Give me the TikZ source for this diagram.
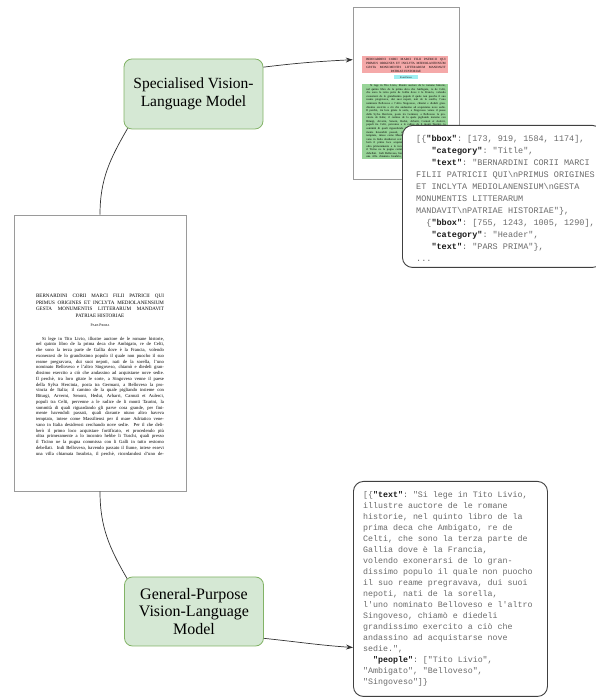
\documentclass[tikz,border=0pt]{standalone}
\usepackage{fontspec}
\setmainfont{Liberation Serif}
\setmonofont{Liberation Mono}
\usetikzlibrary{positioning,calc,arrows.meta}
\definecolor{vlmfill}{HTML}{D5E8D4}
\definecolor{vlmdraw}{HTML}{82B366}
\definecolor{pageline}{HTML}{9A9A9A}
\definecolor{jsonkey}{HTML}{1A1A1A}
\definecolor{jsonval}{HTML}{6B6B6B}
\definecolor{hltitle}{HTML}{F5A9A9}
\definecolor{hlheader}{HTML}{9FEFF2}
\definecolor{hltext}{HTML}{98D498}
\newcommand{\jk}[1]{\textbf{\color{jsonkey}#1}}
\newcommand{\jl}[1]{\makebox[128pt][s]{#1}}
\newsavebox\pagetext
\begin{document}
\sbox\pagetext{\parbox{128pt}{\centering
\fontsize{5.1}{6.6}\selectfont
\jl{BERNARDINI CORII MARCI FILII PATRICII QUI}\\
\jl{PRIMUS ORIGINES ET INCLYTA MEDIOLANENSIUM}\\
\jl{GESTA MONUMENTIS LITTERARUM MANDAVIT}\\
PATRIAE HISTORIAE\par
\vspace{4pt}
{\fontsize{3.8}{5}\selectfont P{\fontsize{3.0}{5}\selectfont ARS} P{\fontsize{3.0}{5}\selectfont RIMA}\par}
\vspace{8pt}
\fontsize{4.65}{5.75}\selectfont
\hspace*{6pt}\makebox[122pt][s]{Si lege in Tito Livio, illustre auctore de le romane historie,}\\
\jl{nel quinto libro de la prima deca che Ambigato, re de Celti,}\\
\jl{che sono la terza parte de Gallia dove è la Francia, volendo}\\
\jl{exonerarsi de lo grandissimo populo il quale non puocho il suo}\\
\jl{reame pregravava, dui suoi nepoti, nati de la sorella, l'uno}\\
\jl{nominato Belloveso e l'altro Singoveso, chiamò e diedeli gran-}\\
\jl{dissimo exercito a ciò che andassino ad acquistarse nove sedie.}\\
\jl{Il perchè, tra loro gitate le sorte, a Singoveso venne il paese}\\
\jl{della Sylva Hercinia, posta tra Germani, a Belloveso la pro-}\\
\jl{vincia de Italia; il camino de la quale pigliando insieme con}\\
\jl{Biturgi, Arverni, Senoni, Hedui, Arbarri, Carnuti et Aulerci,}\\
\jl{populi tra Celti, pervenne a le radice de li monti Taurini, la}\\
\jl{sommità di quali riguardando gli parve cosa grande, per fini-}\\
\jl{mente havendoli passati, quali davante niuno altro haveva}\\
\jl{temptato, intese come Massiliensi per il mare Adriatico vene-}\\
\jl{vano in Italia desiderosi cerchando nove sedie. Per il che deli-}\\
\jl{berò il primo loco acquistare fortificato, et procedendo più}\\
\jl{oltra primeramente a lo incontro hebbe li Tuschi, quali presso}\\
\jl{il Ticino ne la pugna commissa con li Galli in tutto restorno}\\
\jl{debellati. Indi Belloveso, havendo passato il fiume, intese essevi}\\
\jl{una villa chiamata Insubria, il perchè, ricordandosi d'uno de-}\par}}
\begin{tikzpicture}[x=1pt, y=1pt,
  vlm/.style={draw=vlmdraw, fill=vlmfill, line width=0.8pt, rounded corners=8pt, minimum width=139pt, minimum height=70pt, align=center},
  docpage/.style={draw=pageline, line width=0.6pt, fill=white, inner sep=0pt},
  json/.style={draw=black!75, line width=0.9pt, fill=white, rounded corners=10pt},
  jsontext/.style={inner sep=0pt, align=left, text=jsonval},
  link/.style={draw=black!80, line width=0.7pt}]
  \useasboundingbox (0,0) rectangle (595,700);

  % scanned page
  \node[docpage, minimum width=172pt, minimum height=276pt] (srcpage) at (100,347) {};
  \node[inner sep=0pt, anchor=north] (srctext) at (100,406) {\usebox\pagetext};

  % page with layout boxes
  \node[docpage, minimum width=106pt, minimum height=172pt] (annpage) at (406,607) {};
  \fill[hltitle] (362,644) rectangle (448,627);
  \fill[hlheader] (394,625) rectangle (418,621);
  \fill[hltext] (362,616) rectangle (448,541);
  \node[inner sep=0pt, anchor=north] (anntext) at (406,642) {\scalebox{0.62}{\usebox\pagetext}};

  % layout output
  \node[json, minimum width=200pt, minimum height=142pt, anchor=north west] (layoutjson) at (402,575) {};
  \node[jsontext, anchor=north west, font=\ttfamily\fontsize{8.5}{12}\selectfont] (layouttext) at (416,565) {%
[\{\jk{"bbox"}: [173, 919, 1584, 1174],\\
\phantom{000}\jk{"category"}: "Title",\\
\phantom{000}\jk{"text"}: "BERNARDINI CORII MARCI\\
FILII PATRICII QUI\textbackslash nPRIMUS ORIGINES\\
ET INCLYTA MEDIOLANENSIUM\textbackslash nGESTA\\
MONUMENTIS LITTERARUM\\
MANDAVIT\textbackslash nPATRIAE HISTORIAE"\},\\
\phantom{00}\{\jk{"bbox"}: [755, 1243, 1005, 1290],\\
\phantom{000}\jk{"category"}: "Header",\\
\phantom{000}\jk{"text"}: "PARS PRIMA"\},\\
...};

  % entity output
  \node[json, minimum width=194pt, minimum height=215pt, anchor=north west] (entityjson) at (353,219) {};
  \node[jsontext, anchor=north west, font=\ttfamily\fontsize{8.3}{11}\selectfont] (entitytext) at (363,209) {%
[\{\jk{"text"}: "Si lege in Tito Livio,\\
illustre auctore de le romane\\
historie, nel quinto libro de la\\
prima deca che Ambigato, re de\\
Celti, che sono la terza parte de\\
Gallia dove è la Francia,\\
volendo exonerarsi de lo gran-\\
dissimo populo il quale non puocho\\
il suo reame pregravava, dui suoi\\
nepoti, nati de la sorella,\\
l'uno nominato Belloveso e l'altro\\
Singoveso, chiamò e diedeli\\
grandissimo exercito a ciò che\\
andassino ad acquistarse nove\\
sedie.",\\
\phantom{00}\jk{"people"}: ["Tito Livio",\\
"Ambigato", "Belloveso",\\
"Singoveso"]\}};

  % models
  \node[vlm, font=\fontsize{15.5}{18}\selectfont] (specvlm) at (193.5,606) {Specialised Vision-\\Language Model};
  \node[vlm, minimum height=69pt, font=\fontsize{16}{17.8}\selectfont] (genvlm) at (194,88.5) {General-Purpose\\Vision-Language\\Model};

  \draw[link] (srcpage.north) to[out=90, in=240] ($(specvlm.south west)+(4,1)$);
  \draw[link, -{Stealth[length=7pt,width=5pt]}] (specvlm.21) to[out=7, in=183] (annpage.148);
  \draw[link] (srcpage.south) to[out=-90, in=120] ($(genvlm.north west)+(3,-2)$);
  \draw[link, -{Stealth[length=7pt,width=5pt]}] (genvlm.-21) to[out=-6, in=176] (entityjson.211);
\end{tikzpicture}
\end{document}
